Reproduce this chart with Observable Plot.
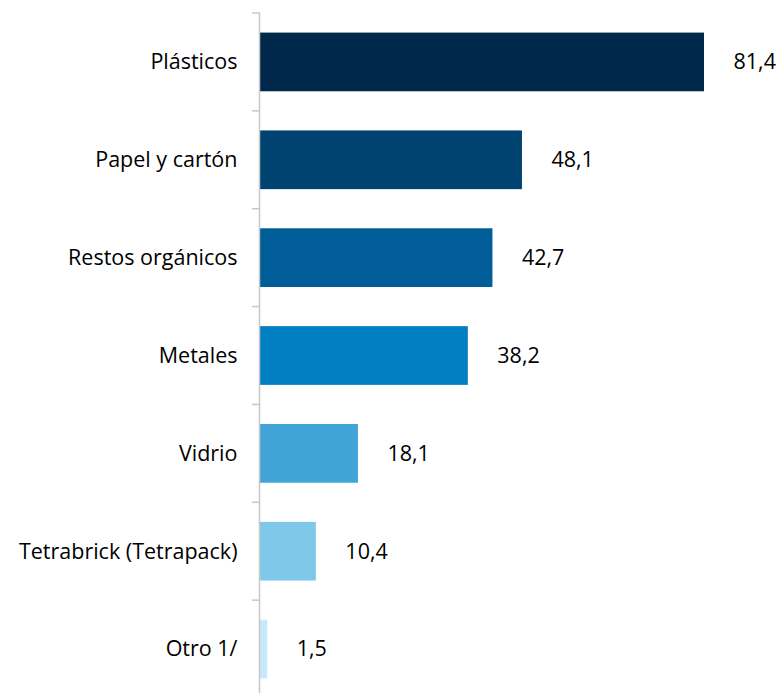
<!DOCTYPE html>
<html>
<head>
<meta charset="utf-8">
<script src="https://cdn.jsdelivr.net/npm/d3@7"></script>
<script src="https://cdn.jsdelivr.net/npm/@observablehq/plot@0.6"></script>
<style>
  html, body { margin: 0; padding: 0; background: #fff; overflow: hidden; }
  svg { display: block; }
</style>
</head>
<body>
<div id="chart"></div>
<script>
const categories = ["Plásticos", "Papel y cartón", "Restos orgánicos", "Metales", "Vidrio", "Tetrabrick (Tetrapack)", "Otro 1/"];
const values = [81.4, 48.1, 42.7, 38.2, 18.1, 10.4, 1.5];
const colors = ["#00284A", "#004370", "#005D98", "#0080C2", "#41A4D7", "#80C8EA", "#C6EAFB"];

const data = categories.map((c, i) => ({category: c, value: values[i], color: colors[i]}));
const fmt = v => v.toFixed(1).replace(".", ",");
const font = "'Open Sans', sans-serif";
const fs = 21.5;

const plot = Plot.plot({
  width: 777,
  height: 693,
  marginTop: 13,
  marginBottom: 0,
  marginLeft: 259,
  marginRight: 26,
  style: {fontFamily: font, fontSize: fs + "px", color: "#000", background: "#fff"},
  x: {domain: [0, 90], axis: null},
  y: {domain: categories, range: [13, 698], round: false, paddingInner: 0.4, paddingOuter: 0.2, label: null, tickSize: 0, tickPadding: 22},
  marks: [
    Plot.barX(data, {y: "category", x: "value", fill: "color"}),
    Plot.text(data, {y: "category", x: "value", text: d => fmt(d.value), dx: 29, textAnchor: "start", fontSize: fs, fill: "#000"}),
    Plot.ruleX([0], {stroke: "#c8c8c8", strokeWidth: 1.5})
  ]
});

// boundary tick marks derived from the y band scale
const ys = plot.scale("y");
const step = ys.step;
const svg = d3.select(plot);
const g = svg.append("g").attr("stroke", "#c8c8c8").attr("stroke-width", 1.5);
categories.forEach(c => {
  const yTop = ys.apply(c) - (step - ys.bandwidth) / 2;
  g.append("line").attr("x1", 252).attr("x2", 260).attr("y1", yTop).attr("y2", yTop);
});
svg.selectAll("g[aria-label='y-axis tick label'] text").attr("fill", "#000");
document.getElementById("chart").append(plot);
</script>
</body>
</html>
